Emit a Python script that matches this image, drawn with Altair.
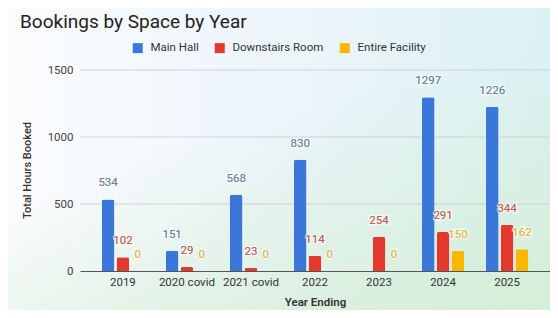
import altair as alt
import pandas as pd

years = ["2019", "2020 covid", "2021 covid", "2022", "2023", "2024", "2025"]
main_hall = [534, 151, 568, 830, None, 1297, 1226]
downstairs = [102, 29, 23, 114, 254, 291, 344]
entire = [0, 0, 0, 0, 0, 150, 162]
series = ["Main Hall", "Downstairs Room", "Entire Facility"]
bar_colors = ["#3b76d9", "#e2382d", "#f9b703"]
label_colors = ["#6583a6", "#c85a55", "#efbd3c"]
y_ticks = [0, 500, 1000, 1500]

rows = []
for s, lc, vals in zip(series, label_colors, [main_hall, downstairs, entire]):
    for yr, v in zip(years, vals):
        if v is not None:
            rows.append({"year": yr, "space": s, "hours": v, "lcolor": lc})
df = pd.DataFrame(rows)
grid_df = pd.DataFrame({"hours": y_ticks[1:]})

W, H = 470, 201
PAD = {"left": 72, "top": 62, "right": 0, "bottom": 39}
FONT = "Roboto"

x_enc = alt.X(
    "year:N", sort=years,
    scale=alt.Scale(paddingInner=0.34, paddingOuter=0.34),
    axis=alt.Axis(title="Year Ending", labelAngle=0, ticks=False, labelPadding=5,
                  labelFontSize=11.5, labelColor="#333", domainColor="#555",
                  titleFontSize=11.5, titleFontWeight=600, titleColor="#333",
                  titlePadding=9, labelFont=FONT, titleFont=FONT, zindex=1),
)
xo_enc = alt.XOffset("space:N", sort=series,
                     scale=alt.Scale(paddingInner=0.15, paddingOuter=0))
y_scale = alt.Scale(domain=[0, 1500], nice=False)
y_enc = alt.Y(
    "hours:Q", scale=y_scale,
    axis=alt.Axis(title="Total Hours Booked", values=y_ticks, format="d", ticks=False,
                  domain=False, grid=False, labelPadding=7, labelFontSize=11.5,
                  labelColor="#444", titleFontSize=11, titleFontWeight=500,
                  titleColor="#333", titleX=-48, titleY=100, titleAngle=-90,
                  labelFont=FONT, titleFont=FONT, zindex=1),
)

bg_df = pd.DataFrame({"k": [0]})
bg1 = alt.Chart(bg_df).mark_rect(
    fill=alt.Gradient(gradient="linear", x1=0, y1=0, x2=1, y2=0,
                      stops=[alt.GradientStop(color="#fbfcfe", offset=0),
                             alt.GradientStop(color="#eef6fb", offset=0.45),
                             alt.GradientStop(color="#dcf1f5", offset=1)])
).encode(x=alt.value(-PAD["left"]), x2=alt.value(W + PAD["right"]),
         y=alt.value(-PAD["top"]), y2=alt.value(H + PAD["bottom"]))
bg2 = alt.Chart(bg_df).mark_rect(
    fill=alt.Gradient(gradient="linear", x1=0.4, y1=0, x2=1, y2=1,
                      stops=[alt.GradientStop(color="rgba(214,238,214,0)", offset=0.3),
                             alt.GradientStop(color="rgba(214,238,214,1)", offset=1)])
).encode(x=alt.value(-PAD["left"]), x2=alt.value(W + PAD["right"]),
         y=alt.value(-PAD["top"]), y2=alt.value(H + PAD["bottom"]))

grid = alt.Chart(grid_df).mark_rule(color="#cdd3d6", strokeWidth=1).encode(
    y=alt.Y("hours:Q", scale=y_scale), x=alt.value(0), x2=alt.value(W))

base = alt.Chart(df)
bars = base.mark_bar(cornerRadiusTopLeft=2, cornerRadiusTopRight=2).encode(
    x=x_enc, xOffset=xo_enc, y=y_enc,
    color=alt.Color("space:N", sort=series,
                    scale=alt.Scale(domain=series, range=bar_colors),
                    legend=alt.Legend(orient="none", legendX=52, legendY=-28,
                                      direction="horizontal", title=None,
                                      symbolType="square", symbolSize=100,
                                      symbolStrokeWidth=0, labelFontSize=11.5,
                                      labelColor="#333", labelFont=FONT,
                                      columnPadding=15, labelOffset=7, padding=0)),
)
halo = base.mark_text(baseline="bottom", dy=-11, fontSize=11.5, font=FONT,
                      stroke="white", strokeWidth=2.5, strokeOpacity=0.7).encode(
    x=x_enc, xOffset=xo_enc, y=y_enc, text="hours:Q")
labels = base.mark_text(baseline="bottom", dy=-11, fontSize=11.5, font=FONT).encode(
    x=x_enc, xOffset=xo_enc, y=y_enc, text="hours:Q",
    color=alt.Color("lcolor:N", scale=None))

chart = alt.layer(bg1, bg2, grid, bars, halo, labels).properties(
    width=W, height=H, padding=PAD, autosize=alt.AutoSizeParams(type="none"),
    title=alt.Title("Bookings by Space by Year", anchor="start", frame="group",
                    dx=-60, dy=28, fontSize=19, fontWeight="normal", color="#222", font=FONT),
).configure_view(stroke=None).configure(background="white")

chart.save("out.html", embed_options={"renderer": "svg", "actions": False})
